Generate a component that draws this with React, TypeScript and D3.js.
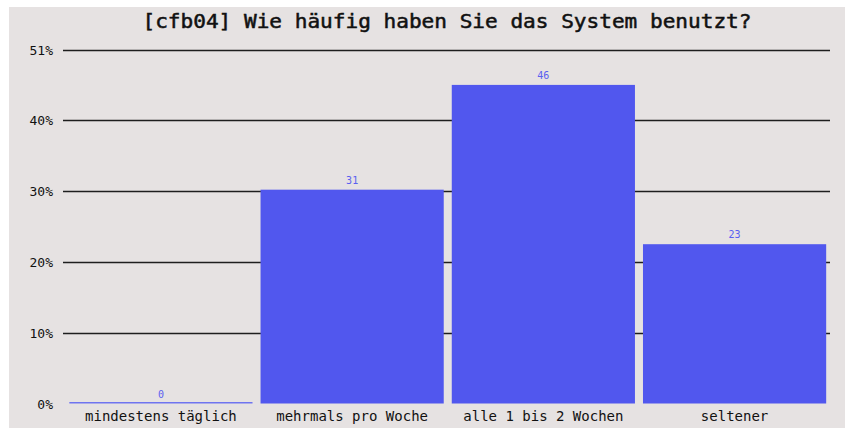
import React, { useRef, useEffect } from "react";
import * as d3 from "d3";

const categories = ["mindestens täglich", "mehrmals pro Woche", "alle 1 bis 2 Wochen", "seltener"];
const counts = [0, 31, 46, 23];
const percents = [0, 30.2, 45.0, 22.5];
const tickValues = [0, 10, 20, 30, 40, 50];
const tickLabels = ["0%", "10%", "20%", "30%", "40%", "51%"];
const title = "[cfb04] Wie häufig haben Sie das System benutzt?";

const W = 845;
const H = 428;
const FONT = "'DejaVu Sans Mono', monospace";

const App = () => {
  const ref = useRef<SVGSVGElement>(null);

  useEffect(() => {
    const svg = d3.select(ref.current);
    svg.selectAll("*").remove();

    svg
      .append("rect")
      .attr("x", 9)
      .attr("y", 7)
      .attr("width", W - 9)
      .attr("height", H - 7)
      .attr("fill", "#e6e2e2");

    const x = d3
      .scaleBand()
      .domain(categories)
      .range([65.5, 830])
      .paddingInner(0.042)
      .paddingOuter(0.02);

    const y = d3.scaleLinear().domain([0, 50]).range([403.5, 49.5]);

    // gridlines (no line at 0)
    svg
      .append("g")
      .selectAll("line")
      .data(tickValues.filter((d) => d > 0))
      .join("line")
      .attr("x1", 63)
      .attr("x2", 830)
      .attr("y1", (d) => Math.round(y(d)) + 0.5)
      .attr("y2", (d) => Math.round(y(d)) + 0.5)
      .attr("stroke", "#1e1e1e")
      .attr("stroke-width", 1.3);

    // tick labels
    svg
      .append("g")
      .selectAll("text")
      .data(tickValues)
      .join("text")
      .attr("x", 53)
      .attr("y", (d) => y(d) + 5)
      .attr("text-anchor", "end")
      .attr("font-family", FONT)
      .attr("font-size", 13)
      .attr("fill", "#111")
      .text((d, i) => tickLabels[i]);

    // bars
    svg
      .append("g")
      .selectAll("rect")
      .data(percents)
      .join("rect")
      .attr("x", (d, i) => x(categories[i])!)
      .attr("width", x.bandwidth())
      .attr("y", (d) => Math.min(y(d), y(0) - 1.5))
      .attr("height", (d) => Math.max(y(0) - y(d), 1.5))
      .attr("fill", (d) => (d > 0 ? "#5157ee" : "#6f74f0"));

    // value labels
    svg
      .append("g")
      .selectAll("text")
      .data(percents)
      .join("text")
      .attr("x", (d, i) => x(categories[i])! + x.bandwidth() / 2)
      .attr("y", (d) => y(d) - 6)
      .attr("text-anchor", "middle")
      .attr("font-family", FONT)
      .attr("font-size", 10)
      .attr("fill", "#5a60f0")
      .text((d, i) => counts[i]);

    // category labels
    svg
      .append("g")
      .selectAll("text")
      .data(categories)
      .join("text")
      .attr("x", (d) => x(d)! + x.bandwidth() / 2)
      .attr("y", 421)
      .attr("text-anchor", "middle")
      .attr("font-family", FONT)
      .attr("font-size", 14)
      .attr("fill", "#111")
      .text((d) => d);

    // title
    svg
      .append("text")
      .attr("x", 447)
      .attr("y", 28)
      .attr("text-anchor", "middle")
      .attr("font-family", FONT)
      .attr("font-size", 19)
      .attr("textLength", 609)
      .attr("lengthAdjust", "spacingAndGlyphs")
      .attr("fill", "#111")
      .attr("stroke", "#111")
      .attr("stroke-width", 0.5)
      .text(title);
  }, []);

  return (
    <svg
      ref={ref}
      width={W}
      height={H}
      style={{ position: "absolute", left: 0, top: 0, background: "#fff" }}
    />
  );
};

export default App;
